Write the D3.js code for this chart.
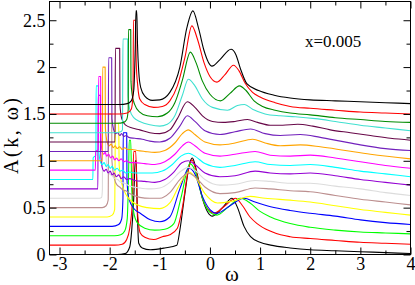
<!DOCTYPE html>
<html><head><meta charset="utf-8">
<script src="https://cdn.jsdelivr.net/npm/d3@7/dist/d3.min.js"></script>
<style>body{margin:0;background:#fff}text{font-family:"Liberation Serif","Times New Roman",serif}</style>
</head><body><svg id="c" width="415" height="285"></svg>
<script>
const xTicks = [-3,-2,-1,0,1,2,3,4];
const xMinor = [-2.5,-1.5,-0.5,0.5,1.5,2.5,3.5];
const yTicks = [0,0.5,1,1.5,2,2.5];
const yMinor = [0.25,0.75,1.25,1.75,2.25];
const yTickLabels = ["0","0.5","1","1.5","2","2.5"];
const annotation = "x=0.005";
const colors = ["#000000","#ff0000","#00ff00","#0000ff","#ffff00","#bc8f8f","#dcdcdc","#9400d3","#00ffff","#ff00ff","#ffa500","#7221bc","#670748","#40e0d0","#008b00","#ff0000","#000000"];

// each curve: [omega, A(k,omega)] pairs (vertical offsets included)
const k00 = [[-3.2,0],[-1.85,0],[-1.69,0.01],[-1.6,0.08],[-1.56,0.26],[-1.52,0.6],[-1.49,1.0],[-1.47,1.0],[-1.45,0.5],[-1.42,0.12],[-1.35,0.07],[-1.19,0.05],[-0.9,0.07],[-0.66,0.1],[-0.6,0.26],[-0.5,0.65],[-0.4,0.98],[-0.35,1.03],[-0.28,0.92],[-0.15,0.6],[0.05,0.41],[0.25,0.5],[0.44,0.60],[0.55,0.5],[0.68,0.3],[0.81,0.19],[1.0,0.13],[1.21,0.10],[1.6,0.07],[2.0,0.05],[2.5,0.04],[3.0,0.03],[3.5,0.02],[4.0,0.01]];
const k01 = [[-3.2,0.1],[-1.9,0.1],[-1.75,0.11],[-1.66,0.16],[-1.6,0.28],[-1.55,0.55],[-1.52,1.1],[-1.48,1.1],[-1.45,0.5],[-1.39,0.23],[-1.3,0.185],[-1.12,0.16],[-0.95,0.19],[-0.8,0.21],[-0.65,0.28],[-0.55,0.5],[-0.45,0.85],[-0.36,1.01],[-0.28,0.9],[-0.15,0.6],[-0.02,0.47],[0.08,0.44],[0.3,0.52],[0.51,0.6],[0.65,0.52],[0.8,0.4],[0.94,0.33],[1.2,0.25],[1.41,0.21],[1.6,0.19],[2.0,0.17],[2.5,0.15],[3.0,0.13],[3.5,0.12],[4.0,0.11]];
const k02 = [[-3.2,0.2],[-1.9,0.2],[-1.78,0.21],[-1.7,0.25],[-1.65,0.38],[-1.625,0.8],[-1.61,1.22],[-1.58,1.22],[-1.56,0.7],[-1.52,0.45],[-1.45,0.34],[-1.3,0.28],[-1.1,0.26],[-0.9,0.27],[-0.72,0.33],[-0.58,0.6],[-0.4,0.97],[-0.3,0.9],[-0.15,0.6],[0.0,0.45],[0.14,0.42],[0.35,0.5],[0.61,0.60],[0.8,0.55],[1.0,0.46],[1.21,0.40],[1.6,0.33],[2.0,0.29],[2.5,0.26],[3.0,0.24],[3.5,0.23],[4.0,0.22]];
const k03 = [[-3.2,0.3],[-1.95,0.3],[-1.82,0.32],[-1.76,0.38],[-1.735,0.6],[-1.73,1.3],[-1.66,1.3],[-1.655,0.8],[-1.62,0.6],[-1.5,0.48],[-1.39,0.44],[-1.19,0.37],[-1.0,0.35],[-0.8,0.4],[-0.6,0.7],[-0.42,0.92],[-0.3,0.86],[-0.15,0.62],[0.0,0.48],[0.14,0.44],[0.4,0.52],[0.68,0.60],[0.9,0.56],[1.21,0.51],[1.6,0.47],[2.0,0.44],[2.5,0.41],[3.0,0.37],[3.5,0.34],[4.0,0.32]];
const k04 = [[-3.2,0.4],[-2.05,0.4],[-1.95,0.42],[-1.9,0.48],[-1.885,1.4],[-1.82,1.4],[-1.81,0.95],[-1.76,0.76],[-1.65,0.62],[-1.45,0.53],[-1.25,0.5],[-1.0,0.49],[-0.8,0.55],[-0.6,0.75],[-0.42,0.88],[-0.3,0.83],[-0.1,0.65],[0.15,0.55],[0.45,0.57],[0.8,0.62],[1.1,0.6],[1.6,0.58],[2.0,0.56],[2.5,0.52],[3.0,0.48],[3.5,0.45],[4.0,0.42]];
const k05 = [[-3.2,0.5],[-2.15,0.5],[-2.07,0.52],[-2.03,0.58],[-2.02,1.5],[-1.96,1.5],[-1.955,1.0],[-1.9,0.8],[-1.85,0.74],[-1.8,0.72],[-1.74,0.69],[-1.68,0.68],[-1.6,0.65],[-1.4,0.61],[-1.2,0.6],[-1.0,0.6],[-0.8,0.66],[-0.6,0.8],[-0.43,0.87],[-0.3,0.83],[-0.1,0.72],[0.2,0.65],[0.5,0.66],[0.9,0.71],[1.2,0.7],[1.6,0.68],[2.0,0.67],[2.5,0.63],[3.0,0.59],[3.5,0.56],[4.0,0.53]];
const k06 = [[-3.2,0.6],[-2.2,0.6],[-2.16,0.61],[-2.145,0.7],[-2.14,1.6],[-2.09,1.6],[-2.08,1.1],[-2.04,0.9],[-2.0,0.86],[-1.95,0.84],[-1.9,0.81],[-1.84,0.8],[-1.78,0.77],[-1.7,0.76],[-1.6,0.73],[-1.4,0.71],[-1.2,0.7],[-1.0,0.71],[-0.8,0.77],[-0.6,0.88],[-0.43,0.93],[-0.3,0.9],[-0.1,0.8],[0.2,0.74],[0.5,0.75],[0.9,0.79],[1.2,0.78],[1.6,0.76],[2.0,0.76],[2.5,0.73],[3.0,0.7],[3.5,0.66],[4.0,0.63]];
const k07 = [[-3.2,0.7],[-2.235,0.7],[-2.23,1.7],[-2.185,1.7],[-2.18,1.1],[-2.15,0.93],[-2.11,0.89],[-2.07,0.91],[-2.03,0.87],[-1.99,0.89],[-1.95,0.85],[-1.91,0.87],[-1.87,0.83],[-1.82,0.85],[-1.77,0.81],[-1.72,0.83],[-1.66,0.8],[-1.6,0.81],[-1.5,0.79],[-1.3,0.78],[-1.1,0.77],[-0.9,0.8],[-0.72,0.88],[-0.56,0.98],[-0.43,1.0],[-0.3,0.96],[-0.1,0.87],[0.2,0.83],[0.5,0.84],[0.9,0.89],[1.2,0.87],[1.6,0.86],[2.0,0.87],[2.5,0.84],[3.0,0.8],[3.5,0.77],[4.0,0.74]];
const k08 = [[-3.2,0.8],[-2.335,0.8],[-2.33,1.03],[-2.275,1.06],[-2.27,1.8],[-2.225,1.8],[-2.22,1.12],[-2.19,1.0],[-2.15,0.96],[-2.11,0.98],[-2.07,0.94],[-2.03,0.96],[-1.99,0.92],[-1.95,0.94],[-1.9,0.9],[-1.85,0.92],[-1.8,0.89],[-1.74,0.9],[-1.68,0.87],[-1.6,0.88],[-1.5,0.87],[-1.35,0.87],[-1.15,0.87],[-0.95,0.89],[-0.75,0.96],[-0.58,1.05],[-0.43,1.08],[-0.3,1.05],[-0.1,0.97],[0.2,0.93],[0.5,0.95],[0.9,0.99],[1.2,0.96],[1.6,0.95],[2.0,0.96],[2.5,0.93],[3.0,0.89],[3.5,0.86],[4.0,0.83]];
const k09 = [[-3.2,0.9],[-2.285,0.9],[-2.28,1.1],[-2.225,1.12],[-2.22,1.9],[-2.18,1.9],[-2.175,1.25],[-2.15,1.1],[-2.12,1.07],[-2.09,1.09],[-2.06,1.05],[-2.02,1.07],[-1.98,1.03],[-1.94,1.05],[-1.9,1.01],[-1.86,1.03],[-1.82,1.0],[-1.77,1.02],[-1.72,0.99],[-1.66,1.0],[-1.6,0.98],[-1.5,0.98],[-1.3,0.97],[-1.1,0.96],[-0.9,0.99],[-0.7,1.07],[-0.55,1.16],[-0.43,1.2],[-0.3,1.16],[-0.1,1.08],[0.2,1.05],[0.5,1.07],[0.9,1.1],[1.2,1.06],[1.6,1.05],[2.0,1.06],[2.5,1.03],[3.0,0.99],[3.5,0.95],[4.0,0.92]];
const k10 = [[-3.2,1.0],[-2.145,1.0],[-2.14,2.0],[-2.09,2.0],[-2.085,1.35],[-2.05,1.2],[-2.01,1.16],[-1.97,1.18],[-1.93,1.14],[-1.89,1.16],[-1.85,1.13],[-1.8,1.15],[-1.75,1.12],[-1.7,1.14],[-1.64,1.12],[-1.55,1.12],[-1.45,1.11],[-1.3,1.1],[-1.1,1.09],[-0.9,1.11],[-0.7,1.19],[-0.55,1.29],[-0.43,1.33],[-0.3,1.28],[-0.1,1.2],[0.2,1.17],[0.5,1.19],[0.85,1.23],[1.1,1.19],[1.4,1.16],[1.8,1.17],[2.2,1.15],[2.7,1.11],[3.2,1.07],[4.0,1.02]];
const k11 = [[-3.2,1.1],[-2.03,1.1],[-2.02,2.1],[-1.96,2.1],[-1.955,1.45],[-1.92,1.33],[-1.88,1.29],[-1.84,1.3],[-1.8,1.27],[-1.76,1.29],[-1.72,1.26],[-1.67,1.27],[-1.62,1.25],[-1.5,1.24],[-1.35,1.23],[-1.2,1.21],[-1.0,1.2],[-0.8,1.24],[-0.6,1.37],[-0.45,1.48],[-0.3,1.42],[-0.1,1.32],[0.2,1.28],[0.5,1.31],[0.81,1.34],[1.1,1.29],[1.4,1.27],[1.8,1.28],[2.2,1.25],[2.6,1.21],[3.0,1.17],[3.5,1.13],[4.0,1.11]];
const k12 = [[-3.2,1.2],[-1.895,1.2],[-1.885,2.2],[-1.8,2.2],[-1.795,1.6],[-1.76,1.45],[-1.68,1.38],[-1.55,1.35],[-1.4,1.33],[-1.2,1.3],[-1.0,1.29],[-0.8,1.33],[-0.65,1.45],[-0.45,1.63],[-0.3,1.57],[-0.15,1.48],[0.05,1.42],[0.27,1.41],[0.5,1.42],[0.75,1.44],[0.95,1.41],[1.2,1.38],[1.45,1.38],[1.75,1.39],[2.05,1.37],[2.4,1.33],[2.8,1.3],[3.2,1.27],[3.6,1.24],[4.0,1.22]];
const k13 = [[-3.2,1.3],[-1.9,1.3],[-1.78,1.31],[-1.745,1.33],[-1.735,2.3],[-1.64,2.3],[-1.635,1.7],[-1.6,1.55],[-1.52,1.46],[-1.4,1.42],[-1.2,1.385],[-1.0,1.37],[-0.85,1.39],[-0.7,1.48],[-0.55,1.7],[-0.43,1.87],[-0.3,1.8],[-0.15,1.66],[0.05,1.57],[0.35,1.54],[0.55,1.59],[0.69,1.6],[0.85,1.55],[1.1,1.5],[1.4,1.48],[1.7,1.47],[2.1,1.45],[2.5,1.42],[3.0,1.38],[3.5,1.35],[4.0,1.32]];
const k14 = [[-3.2,1.4],[-1.85,1.4],[-1.72,1.41],[-1.66,1.44],[-1.63,1.55],[-1.625,2.4],[-1.58,2.4],[-1.575,1.85],[-1.55,1.7],[-1.5,1.6],[-1.4,1.52],[-1.25,1.48],[-1.05,1.47],[-0.85,1.51],[-0.7,1.62],[-0.55,1.86],[-0.39,2.16],[-0.28,2.05],[-0.15,1.85],[0.0,1.71],[0.21,1.64],[0.4,1.72],[0.59,1.80],[0.72,1.75],[0.88,1.64],[1.05,1.58],[1.3,1.54],[1.6,1.51],[2.0,1.49],[2.5,1.46],[3.0,1.44],[3.5,1.42],[4.0,1.41]];
const k15 = [[-3.2,1.5],[-1.8,1.5],[-1.65,1.51],[-1.57,1.55],[-1.535,1.7],[-1.525,2.5],[-1.485,2.5],[-1.47,2.05],[-1.44,1.8],[-1.4,1.66],[-1.3,1.6],[-1.12,1.57],[-0.95,1.58],[-0.8,1.64],[-0.65,1.8],[-0.5,2.1],[-0.36,2.44],[-0.25,2.3],[-0.12,2.05],[0.0,1.9],[0.14,1.84],[0.3,1.92],[0.47,2.02],[0.58,1.96],[0.7,1.83],[0.85,1.73],[1.0,1.68],[1.3,1.62],[1.6,1.58],[2.0,1.56],[2.5,1.54],[3.0,1.52],[3.5,1.51],[4.0,1.5]];
const k16 = [[-3.2,1.6],[-1.8,1.6],[-1.65,1.61],[-1.57,1.64],[-1.52,1.75],[-1.49,2.2],[-1.475,2.6],[-1.46,2.6],[-1.445,2.25],[-1.42,1.95],[-1.38,1.78],[-1.3,1.69],[-1.15,1.645],[-1.0,1.65],[-0.8,1.73],[-0.6,2.0],[-0.46,2.42],[-0.34,2.6],[-0.22,2.4],[-0.12,2.18],[0.04,2.01],[0.2,2.08],[0.42,2.19],[0.52,2.13],[0.61,1.98],[0.74,1.82],[0.97,1.75],[1.28,1.70],[1.6,1.67],[2.0,1.65],[2.5,1.64],[3.0,1.63],[3.5,1.62],[4.0,1.61]];
const curves = [k00,k01,k02,k03,k04,k05,k06,k07,k08,k09,k10,k11,k12,k13,k14,k15,k16];

const L = 49.5, R = 410.5, T = 1.5, B = 254.5;
const svg = d3.select("#c");
const x = d3.scaleLinear().domain([-3.2,4]).range([L,R]);
const y = d3.scaleLinear().domain([0,2.7]).range([B,T]);

svg.append("clipPath").attr("id","clip").append("rect")
  .attr("x",L).attr("y",T).attr("width",R-L).attr("height",B-T);

const line = d3.line().x(d=>x(d[0])).y(d=>y(d[1])).curve(d3.curveMonotoneX);
const g = svg.append("g").attr("clip-path","url(#clip)");
curves.forEach((c,i)=>{
  g.append("path").attr("d",line(c)).attr("fill","none")
   .attr("stroke",colors[i]).attr("stroke-width",1.1).attr("stroke-linejoin","round");
});

function styleAxis(sel){ sel.select(".domain").remove(); sel.selectAll("line").attr("stroke","#000"); }
const fs = 18;
// bottom
svg.append("g").attr("transform",`translate(0,${B})`)
  .call(d3.axisBottom(x).tickValues(xTicks).tickSize(-7).tickPadding(3).tickFormat(d=>d))
  .call(styleAxis).selectAll("text").attr("font-size",fs).attr("fill","#000").attr("font-family","Liberation Serif");
svg.append("g").attr("transform",`translate(0,${B})`)
  .call(d3.axisBottom(x).tickValues(xMinor).tickSize(-4).tickFormat("")).call(styleAxis);
// top
svg.append("g").attr("transform",`translate(0,${T})`)
  .call(d3.axisTop(x).tickValues(xTicks).tickSize(-7).tickFormat("")).call(styleAxis);
svg.append("g").attr("transform",`translate(0,${T})`)
  .call(d3.axisTop(x).tickValues(xMinor).tickSize(-4).tickFormat("")).call(styleAxis);
// left
svg.append("g").attr("transform",`translate(${L},0)`)
  .call(d3.axisLeft(y).tickValues(yTicks).tickSize(-7).tickPadding(4).tickFormat((d,i)=>yTickLabels[i]))
  .call(styleAxis).selectAll("text").attr("font-size",fs).attr("fill","#000").attr("font-family","Liberation Serif");
svg.append("g").attr("transform",`translate(${L},0)`)
  .call(d3.axisLeft(y).tickValues(yMinor).tickSize(-4).tickFormat("")).call(styleAxis);
// right
svg.append("g").attr("transform",`translate(${R},0)`)
  .call(d3.axisRight(y).tickValues(yTicks).tickSize(-7).tickFormat("")).call(styleAxis);
svg.append("g").attr("transform",`translate(${R},0)`)
  .call(d3.axisRight(y).tickValues(yMinor).tickSize(-4).tickFormat("")).call(styleAxis);

svg.append("rect").attr("x",L).attr("y",T).attr("width",R-L).attr("height",B-T)
  .attr("fill","none").attr("stroke","#000").attr("stroke-width",1);

svg.append("text").attr("x",232).attr("y",281).attr("text-anchor","middle")
  .attr("font-size",21).text("ω");
svg.append("text").attr("transform",`translate(18,136) rotate(-90)`).attr("text-anchor","middle")
  .attr("font-size",20).attr("textLength",76).attr("lengthAdjust","spacing").text("A(k, ω)");
svg.append("text").attr("x",305).attr("y",47).attr("font-size",17).text(annotation);
</script></body></html>
